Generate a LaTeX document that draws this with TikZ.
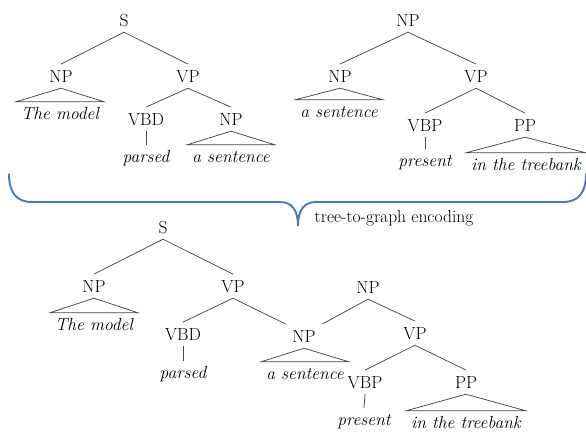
\documentclass[tikz,border=0pt]{standalone}
\definecolor{braceblue}{RGB}{70,118,196}
\begin{document}
\begin{tikzpicture}[x=1pt,y=-1pt,
  every node/.style={font=\fontsize{17.5}{21}\selectfont},
  cat/.style={anchor=base, inner xsep=2pt, inner ysep=6pt, text height=11.7pt, text depth=0pt},
  word/.style={anchor=base, inner xsep=5pt, inner ysep=5pt, text height=12pt, text depth=4pt, font=\fontsize{17.5}{21}\selectfont\itshape},
  branch/.style={draw=black!72, line width=0.75pt},
  brace/.style={draw=braceblue, line width=1.9pt, line cap=round}]
\useasboundingbox (0,0) rectangle (586,432);

% ---- first parse: S -> NP VP ----
\node[cat] (s1) at (124,26) {S};
\node[cat] (np1) at (61,82) {NP};
\node[cat] (vp1) at (188,82) {VP};
\node[word] (w1) at (60,119) {The model};
\node[cat] (vbd1) at (146,125) {VBD};
\node[cat] (np2) at (231,125) {NP};
\node[word] (w2) at (146,162) {parsed};
\node[word] (w3) at (231,162) {a sentence};
\draw[branch] (s1.south) -- (np1.north);
\draw[branch] (s1.south) -- (vp1.north);
\draw[branch] (np1.south) -- (w1.north east) -- (w1.north west) -- cycle;
\draw[branch] (vp1.south) -- (vbd1.north);
\draw[branch] (vp1.south) -- (np2.north);
\draw[branch] (vbd1.south) -- (w2.north);
\draw[branch] (np2.south) -- (w3.north east) -- (w3.north west) -- cycle;

% ---- second parse: NP -> NP VP ----
\node[cat] (r2) at (408,26) {NP};
\node[cat] (np3) at (340,82) {NP};
\node[cat] (vp2) at (476,82) {VP};
\node[word] (w4) at (339,117) {a sentence};
\node[cat] (vbp1) at (425,131) {VBP};
\node[cat] (pp1) at (525,131) {PP};
\node[word] (w5) at (425,166) {present};
\node[word] (w6) at (526,170) {in the treebank};
\draw[branch] (r2.south) -- (np3.north);
\draw[branch] (r2.south) -- (vp2.north);
\draw[branch] (np3.south) -- (w4.north east) -- (w4.north west) -- cycle;
\draw[branch] (vp2.south) -- (vbp1.north);
\draw[branch] (vp2.south) -- (pp1.north);
\draw[branch] (vbp1.south) -- (w5.north);
\draw[branch] (pp1.south) -- (w6.north east) -- (w6.north west) -- cycle;

% ---- brace and label ----
\draw[brace] (9,174) .. controls (9,192) and (16,202) .. (32,202)
  -- (280,202) .. controls (292,202) and (298,210) .. (298,226)
  .. controls (298,210) and (304,202) .. (316,202)
  -- (563,202) .. controls (579,202) and (586,192) .. (586,174);
\node[anchor=base, inner sep=0pt] (enc) at (394,222) {tree-to-graph encoding};

% ---- merged graph ----
\node[cat] (s3) at (163,233) {S};
\node[cat] (np4) at (94,292) {NP};
\node[cat] (vp3) at (233,292) {VP};
\node[word] (w7) at (94,330) {The model};
\node[cat] (vbd2) at (183,340) {VBD};
\node[cat, inner xsep=6.5pt] (nps) at (304,342) {NP};
\node[word] (w8) at (183,378) {parsed};
\node[word] (w9) at (305,379) {a sentence};
\node[cat] (r3) at (368,293) {NP};
\node[cat] (vp4) at (415,339) {VP};
\node[cat] (vbp2) at (365,388) {VBP};
\node[cat] (pp2) at (466,388) {PP};
\node[word] (w10) at (364,425) {present};
\node[word] (w11) at (466,428) {in the treebank};
\draw[branch] (s3.south) -- (np4.north);
\draw[branch] (s3.south) -- (vp3.north);
\draw[branch] (np4.south) -- (w7.north east) -- (w7.north west) -- cycle;
\draw[branch] (vp3.south) -- (vbd2.north);
\draw[branch] (vp3.south) -- (nps.north west);
\draw[branch] (vbd2.south) -- (w8.north);
\draw[branch] (nps.south) -- (w9.north east) -- (w9.north west) -- cycle;
\draw[branch] (r3.south) -- (nps.north east);
\draw[branch] (r3.south) -- (vp4.north);
\draw[branch] (vp4.south) -- (vbp2.north);
\draw[branch] (vp4.south) -- (pp2.north);
\draw[branch] (vbp2.south) -- (w10.north);
\draw[branch] (pp2.south) -- (w11.north east) -- (w11.north west) -- cycle;
\end{tikzpicture}
\end{document}
